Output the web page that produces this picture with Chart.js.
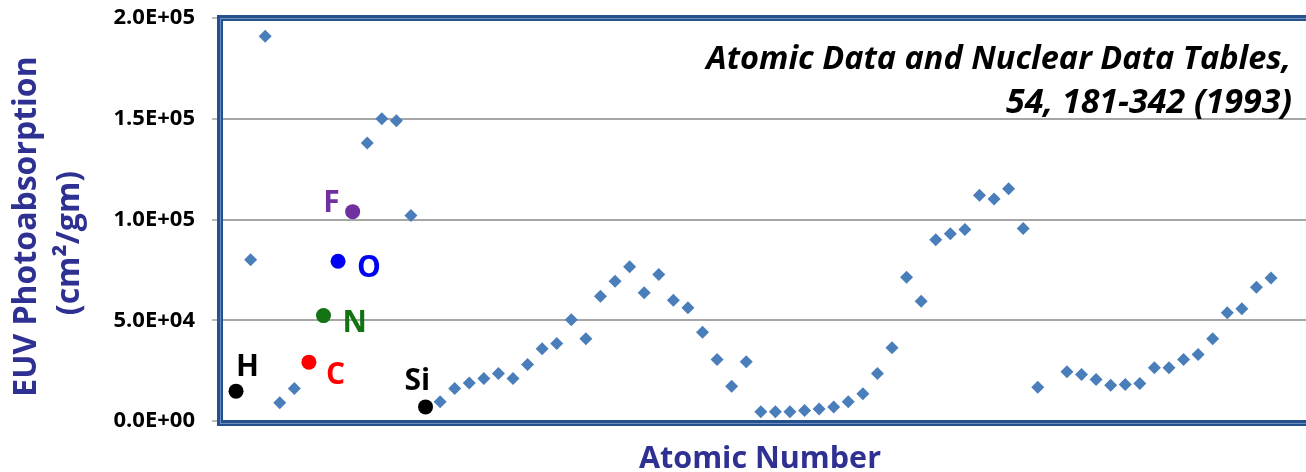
<!DOCTYPE html>
<html><head><meta charset="utf-8">
<script src="https://cdn.jsdelivr.net/npm/chart.js@4.4.1/dist/chart.umd.min.js"></script>
<style>html,body{margin:0;padding:0;background:#fff;overflow:hidden}#wrap{position:relative;width:1306px;height:472px}</style>
</head><body><div id="wrap"><canvas id="c" width="1306" height="472"></canvas></div>
<script>
// ---- data ----
const atomicNumbers = [2,3,4,5,10,11,12,13,15,16,17,18,19,20,21,22,23,24,25,26,27,28,29,30,31,32,33,34,35,36,37,38,39,40,41,42,43,44,45,46,47,48,49,50,51,52,53,54,55,56,58,59,60,61,62,63,64,65,66,67,68,69,70,71,72];
const photoabsorption = [80000,191000,9000,16100,138000,150000,149000,102000,9500,16100,18900,21100,23600,21100,28000,35800,38400,50300,40800,61900,69300,76500,63600,72700,59900,56200,44000,30500,17300,29400,4600,4600,4600,5200,6000,7000,9500,13500,23600,36300,71300,59400,90000,92900,95000,112000,110200,115300,95500,16800,24400,23100,20600,17800,18100,18600,26400,26400,30500,33000,40800,53700,55700,66400,71000];
const markedSymbols = ['H','C','N','O','F','Si'];
const markedNumbers = [1,6,7,8,9,14];
const markedValues = [14800,29200,52300,79300,103900,7000];
const markedColors = ['#000000','#FF0000','#137313','#0000F2','#7030A0','#000000'];
const yTickValues = [0,50000,100000,150000,200000];
const yTickLabels = ['0.0E+00','5.0E+04','1.0E+05','1.5E+05','2.0E+05'];
const yAxisTitle = ['EUV Photoabsorption','(cm\u00B2/gm)'];
const xAxisTitle = 'Atomic Number';
const sourceNote = ['Atomic Data and Nuclear Data Tables,','54, 181-342 (1993)'];

// ---- styles ----
const TITLE_COLOR = '#2E3192';
const FRAME_COLOR = '#24508C';
const FONT = "'Open Sans', 'Liberation Sans', sans-serif";
// label offsets (px) relative to each marked point: [dx, dy] for left/baseline
const labelOffsets = {H:[0,-15], C:[17,22], N:[19,16], O:[19,16], F:[-29.5,0], Si:[-21,-16.5]};

const framePlugin = {
  id: 'frame',
  beforeDatasetsDraw(chart) {
    const {ctx, chartArea: a} = chart;
    ctx.save();
    ctx.fillStyle = FRAME_COLOR;
    ctx.fillRect(a.left - 3, a.top - 3, a.right - a.left + 3, 6);      // top
    ctx.fillRect(a.left - 3, a.top - 3, 6, a.bottom - a.top + 8);       // left
    ctx.fillRect(a.left - 3, a.bottom - 1, a.right - a.left + 3, 6);    // bottom
    ctx.fillStyle = '#6F8FC2';
    ctx.fillRect(a.left, a.top, a.right - a.left, 1);
    ctx.fillRect(a.left, a.top, 1, a.bottom - a.top + 2);
    ctx.fillRect(a.left, a.bottom + 2, a.right - a.left, 1);
    ctx.restore();
  },
  afterDraw(chart) {
    const {ctx, chartArea: a, scales} = chart;
    ctx.save();
    // y axis title (two rotated lines)
    ctx.fillStyle = TITLE_COLOR;
    ctx.font = "bold 32px " + FONT;
    ctx.textAlign = 'center';
    ctx.textBaseline = 'alphabetic';
    const yTitlePos = [[36, 226.5], [79, 243]];
    yAxisTitle.forEach((t, i) => {
      ctx.save();
      ctx.translate(yTitlePos[i][0], yTitlePos[i][1]);
      ctx.rotate(-Math.PI / 2);
      ctx.fillText(t, 0, 0);
      ctx.restore();
    });
    // x axis title
    ctx.font = "bold 30.5px " + FONT;
    ctx.fillText(xAxisTitle, (a.left + a.right) / 2 - 3, 467.5);
    // source note
    ctx.fillStyle = '#000';
    ctx.textAlign = 'right';
    ctx.font = "italic bold 32.5px " + FONT;
    ctx.fillText(sourceNote[0], a.right - 15, 68.5);
    ctx.font = "italic bold 34px " + FONT;
    ctx.fillText(sourceNote[1], a.right - 14, 113);
    // element labels
    ctx.textAlign = 'left';
    ctx.font = "bold 30px " + FONT;
    markedSymbols.forEach((s, i) => {
      const px = scales.x.getPixelForValue(markedNumbers[i]);
      const py = scales.y.getPixelForValue(markedValues[i]);
      const off = labelOffsets[s];
      ctx.fillStyle = markedColors[i];
      ctx.fillText(s, px + off[0], py + off[1]);
    });
    ctx.restore();
  }
};

new Chart(document.getElementById('c'), {
  type: 'scatter',
  data: {
    datasets: [
      { label: 'Elements', data: atomicNumbers.map((z, i) => ({x: z, y: photoabsorption[i]})),
        pointStyle: 'rectRot', pointRadius: 6.5, backgroundColor: '#4A7EBB', borderWidth: 0 },
      { label: 'Marked', data: markedNumbers.map((z, i) => ({x: z, y: markedValues[i]})),
        pointStyle: 'circle', pointRadius: 7.5, backgroundColor: markedColors, borderWidth: 0 }
    ]
  },
  options: {
    responsive: false, animation: false, devicePixelRatio: 1,
    layout: {autoPadding: false, padding: {top: 18, left: 0, right: 0, bottom: 0}},
    plugins: {legend: {display: false}, tooltip: {enabled: false}},
    scales: {
      x: { type: 'linear', min: -0.1, max: 74.4, ticks: {display: false},
        grid: {display: false, drawTicks: false}, border: {display: false},
        afterFit(s) { s.height = 51; s.paddingLeft = 0; s.paddingRight = 0; s.paddingTop = 0; s.paddingBottom = 0; } },
      y: { min: 0, max: 200000,
        afterBuildTicks(s) { s.ticks = yTickValues.map(v => ({value: v})); },
        ticks: { callback: (v, i) => yTickLabels[i], font: {family: FONT, weight: 'bold', size: 22}, color: '#000', padding: 17 },
        grid: {color: '#A6A6A6', lineWidth: 2, tickLength: 8, tickColor: '#A6A6A6', tickWidth: 1.5},
        border: {display: false},
        afterFit(s) { s.width = 220; s.paddingTop = 0; s.paddingBottom = 0; s.paddingLeft = 0; s.paddingRight = 0; } }
    }
  },
  plugins: [framePlugin]
});
</script></body></html>
